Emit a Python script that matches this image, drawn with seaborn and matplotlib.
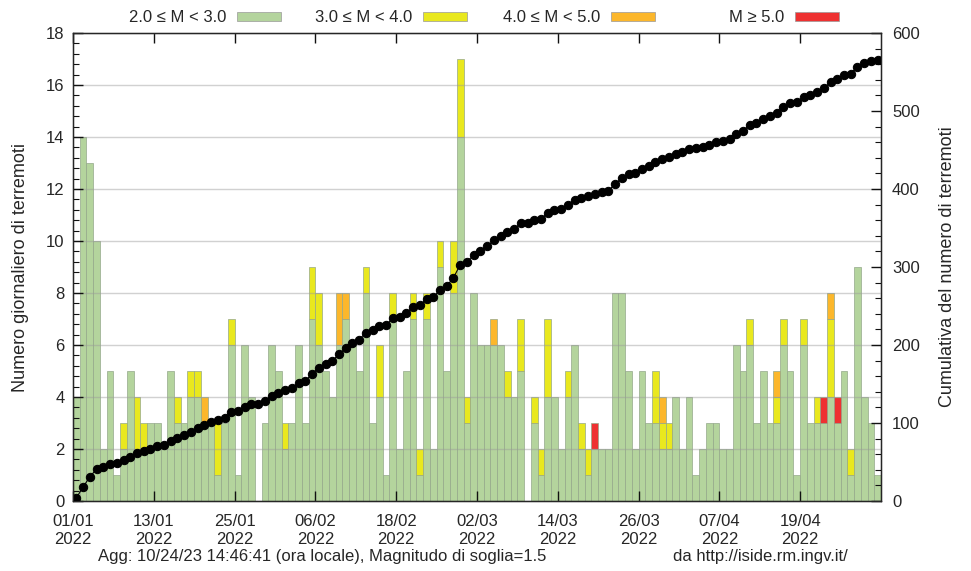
import numpy as np
import pandas as pd
import matplotlib
matplotlib.use("Agg")
import matplotlib.pyplot as plt
from matplotlib.patches import Rectangle
from matplotlib.ticker import MultipleLocator, FixedLocator
import seaborn as sns

# Daily earthquake counts, 01/01/2022 .. 30/04/2022, split by magnitude class
m2_3 = [4, 14, 13, 10, 2, 5, 1, 2, 5, 2,
        2, 3, 3, 2, 5, 3, 3, 4, 4, 3,
        3, 1, 3, 6, 1, 6, 4, 0, 3, 6,
        5, 2, 3, 6, 3, 7, 6, 5, 4, 6,
        7, 6, 5, 8, 3, 4, 1, 7, 2, 5,
        7, 1, 7, 2, 9, 5, 8, 14, 3, 8,
        6, 6, 6, 6, 4, 4, 5, 0, 3, 1,
        4, 4, 2, 4, 6, 2, 1, 2, 2, 2,
        8, 8, 5, 2, 5, 3, 3, 2, 2, 4,
        2, 4, 1, 2, 3, 3, 2, 2, 6, 5,
        6, 3, 5, 3, 3, 6, 5, 1, 6, 3,
        3, 3, 4, 3, 5, 1, 9, 4, 3, 1]
m3_4 = [0, 0, 0, 0, 0, 0, 0, 1, 0, 2,
        1, 0, 0, 0, 0, 1, 0, 1, 1, 0,
        0, 2, 0, 1, 0, 0, 0, 0, 0, 0,
        0, 1, 0, 0, 0, 2, 2, 0, 0, 0,
        0, 0, 0, 1, 0, 2, 0, 1, 0, 0,
        1, 1, 1, 0, 1, 0, 2, 3, 1, 0,
        0, 0, 0, 0, 1, 0, 2, 0, 1, 1,
        3, 0, 0, 1, 0, 1, 1, 0, 0, 0,
        0, 0, 0, 0, 0, 0, 2, 1, 1, 0,
        0, 0, 0, 0, 0, 0, 0, 0, 0, 0,
        1, 0, 0, 0, 1, 1, 0, 0, 1, 0,
        1, 0, 3, 0, 0, 1, 0, 0, 0, 0]
m4_5 = [0] * 120
for d, n in [(19, 1), (39, 2), (40, 1), (62, 1), (87, 1), (104, 1), (112, 1)]:
    m4_5[d] = n
m5 = [0] * 120
for d in (77, 111, 113):
    m5[d] = 1

classes = ["2.0 \u2264 M < 3.0", "3.0 \u2264 M < 4.0", "4.0 \u2264 M < 5.0", "M \u2265 5.0"]
colors = ["#b4d49d", "#e9e81e", "#fcb72b", "#ee3131"]
tick_labels = ["01/01", "13/01", "25/01", "06/02", "18/02",
               "02/03", "14/03", "26/03", "07/04", "19/04"]
n_days = len(m2_3)

days = np.arange(n_days)
rows = []
for cls, vals in zip(classes, [m2_3, m3_4, m4_5, m5]):
    for d, v in zip(days, vals):
        rows.append({"day": d + 0.5, "cls": cls, "count": v})
df = pd.DataFrame(rows)
total = np.array(m2_3) + np.array(m3_4) + np.array(m4_5) + np.array(m5)
cum = pd.DataFrame({"day": days + 0.5, "cum": np.cumsum(total)})

sns.set_style("white")
plt.rcParams["font.family"] = ["Liberation Sans Narrow", "Liberation Sans", "DejaVu Sans"]
plt.rcParams["font.size"] = 12

fig = plt.figure(figsize=(9.71, 5.71), dpi=100)
ax = fig.add_axes([73 / 971, 70 / 571, 808 / 971, 468 / 571])

sns.histplot(data=df, x="day", weights="count", hue="cls",
             hue_order=classes[::-1], palette=dict(zip(classes, colors)),
             binwidth=1, binrange=(0, n_days), multiple="stack", element="bars",
             edgecolor="#94a78a", linewidth=0.5, alpha=1, legend=False, ax=ax)
for p in ax.patches:
    if p.get_height() == 0:
        p.set_visible(False)

ax.set_xlim(0, n_days)
ax.set_ylim(0, 18)
ax.yaxis.set_major_locator(MultipleLocator(2))
ax.yaxis.set_minor_locator(MultipleLocator(0.4))
ax.xaxis.set_major_locator(FixedLocator(np.arange(0, 120, 12)))
ax.set_xticklabels([t + "\n2022" for t in tick_labels], linespacing=1.25)
ax.set_axisbelow(False)
ax.yaxis.grid(True, color="#9a9a9a", alpha=0.45, linewidth=1.0, zorder=3)
ax.tick_params(axis="both", which="both", direction="in", top=True, left=True,
               bottom=True, labelsize=12, color="#111111")
ax.tick_params(axis="y", which="major", length=7, width=1, pad=6)
ax.tick_params(axis="y", which="minor", length=4, width=0.8)
ax.tick_params(axis="x", which="major", length=7, width=1, pad=9)
ax.set_xlabel("")
ax.set_ylabel("Numero giornaliero di terremoti", fontsize=13, labelpad=12)
for s in ax.spines.values():
    s.set_color("#111111")
    s.set_linewidth(1)

ax2 = ax.twinx()
sns.lineplot(data=cum, x="day", y="cum", color="black", linewidth=0.8,
             marker="o", markersize=6, markeredgecolor="black", ax=ax2)
ax2.set_ylim(0, 600)
ax2.yaxis.set_major_locator(MultipleLocator(100))
ax2.yaxis.set_minor_locator(MultipleLocator(20))
ax2.tick_params(axis="y", which="both", direction="in", labelsize=12, color="#111111")
ax2.tick_params(axis="y", which="major", length=7, width=1, pad=8)
ax2.tick_params(axis="y", which="minor", length=4, width=0.8)
ax2.set_xlabel("")
ax2.set_ylabel("Cumulativa del numero di terremoti", fontsize=13, labelpad=14)
ax2.set_xlim(0, n_days)

# Key across the top: text followed by a colour sample
key_text_right = [226, 412, 600, 784]
for label, col, xr in zip(classes, colors, key_text_right):
    fig.text(xr / 971, 1 - 17 / 571, label, ha="right", va="center", fontsize=12)
    fig.patches.append(Rectangle(((xr + 11) / 971, 1 - 21 / 571), 44 / 971, 9 / 571,
                                 transform=fig.transFigure, facecolor=col,
                                 edgecolor="#999999", linewidth=0.5))

fig.text(322 / 971, 1 - 556 / 571,
         "Agg: 10/24/23 14:46:41 (ora locale), Magnitudo di soglia=1.5",
         ha="center", va="center", fontsize=12)
fig.text(760 / 971, 1 - 556 / 571, "da http://iside.rm.ingv.it/",
         ha="center", va="center", fontsize=12)

fig.savefig("out.png", dpi=100)
